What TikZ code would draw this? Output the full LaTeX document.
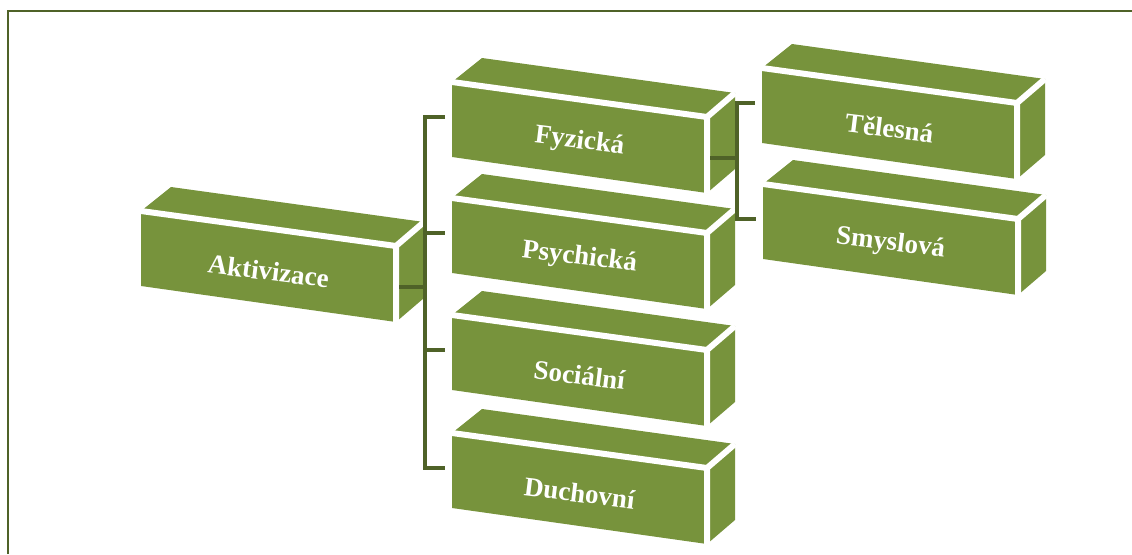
\documentclass[tikz,border=0pt]{standalone}
\usepackage{fontspec}
\setmainfont{Liberation Serif}
\usetikzlibrary{calc}
\definecolor{boxgreen}{HTML}{77933C}
\definecolor{darkolive}{HTML}{4F6228}
\tikzset{
  boxbody/.style={fill=boxgreen},
  boxedge/.style={draw=white, line width=6pt},
  conn/.style={draw=darkolive, line width=4pt},
  boxlabel/.style={text=white, font=\fontsize{27}{30}\selectfont\bfseries, rotate=-7, inner sep=0pt},
  frameline/.style={draw=darkolive, line width=2.5pt}
}
\newcommand{\olivebox}[4]{%
  \begin{scope}[shift={(#2,#3)}]
    \path[boxbody] (0,0) -- (30,-24) -- (283,11) -- (283,87) -- (255,111) -- (0,75) -- cycle;
    \path[boxedge] (0,0) -- (255,35) -- (255,111) (255,35) -- (283,11);
    \node[boxlabel] (#1) at (127.5,60) {#4};
    \coordinate (#1-in) at (-7,35);
    \coordinate (#1-out) at (258,76);
  \end{scope}}
\begin{document}
\begin{tikzpicture}[x=1pt,y=-1pt]
\useasboundingbox (0,0) rectangle (1132,554);
\draw[frameline] (8,554) -- (8,11) -- (1132,11);
\olivebox{aktiv}{141}{211}{Aktivizace}
\olivebox{fyz}{452}{82}{Fyzická}
\olivebox{psych}{452}{198}{Psychická}
\olivebox{soc}{452}{315}{Sociální}
\olivebox{duch}{452}{433}{Duchovní}
\olivebox{tel}{762}{68}{Tělesná}
\olivebox{smys}{763}{184}{Smyslová}
\coordinate (b1) at (425,0);
\coordinate (b2) at (737,0);
\draw[conn] (aktiv-out) -- (aktiv-out -| b1);
\draw[conn] (fyz-in) -- (fyz-in -| b1) -- (duch-in -| b1) -- (duch-in);
\draw[conn] (psych-in -| b1) -- (psych-in);
\draw[conn] (soc-in -| b1) -- (soc-in);
\draw[conn] (fyz-out) -- (fyz-out -| b2);
\draw[conn] (tel-in) -- (tel-in -| b2) -- (smys-in -| b2) -- (smys-in);
\end{tikzpicture}
\end{document}
